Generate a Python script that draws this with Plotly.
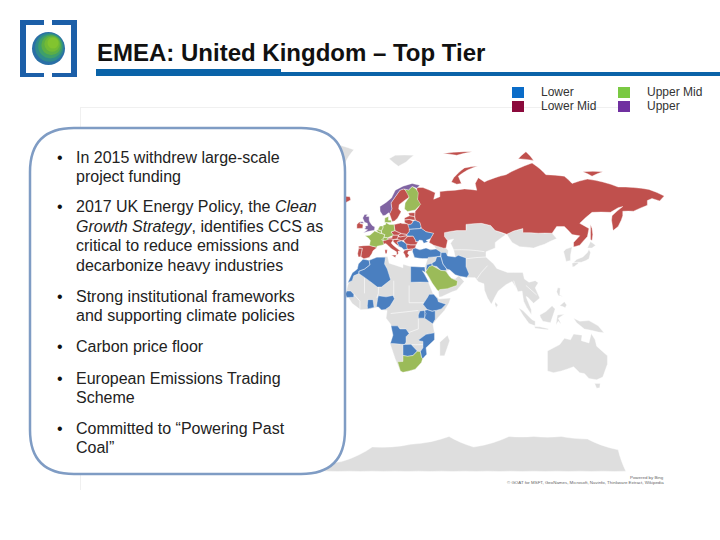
import plotly.graph_objects as go

# Colours of the map
map_blue = '#4a7fc0'
map_red = '#c0504d'
map_green = '#9bbb59'
map_purple = '#8064a2'
map_grey = '#dedede'

# Country outlines, rough lon/lat
russia = [(28, 60), (30.5, 62), (29, 66), (29, 69.5), (33, 69.5), (41, 67.5), (40, 65), (44, 66), (44, 68), (54, 68.5),
          (60, 69), (68, 68.5), (67, 71), (69, 73), (73, 71.5), (75, 72), (80, 73), (87, 74), (95, 76), (104, 77.7),
          (113, 74), (125, 73.5), (130, 71), (140, 72.5), (150, 71.5), (160, 69.7), (170, 69.5), (180, 68.8), (190, 66.3),
          (187, 64.3), (182, 65.3), (179, 64.5), (179, 62.5), (170, 60), (163, 60), (163, 58), (162, 56), (160, 53),
          (156.7, 51), (155.7, 56), (156, 58), (163, 62), (160, 61.5), (155, 59.5), (143, 59.5), (135, 54.5), (141, 52),
          (140, 48), (135, 43.5), (131, 42.6), (131, 45), (135, 48.4), (130, 49), (125, 53), (120, 53), (117, 49.7),
          (108, 49.7), (98, 50), (98, 52), (92, 50.8), (87.5, 49.2), (80, 51), (77, 53.5), (71, 54.5), (61, 54), (61, 51),
          (55, 51), (47, 50), (47, 48), (49, 46), (48, 42), (46.5, 41.9), (40, 43.5), (37, 45), (38, 47), (40, 49.7),
          (35, 50.5), (32, 52.2), (31, 55), (28, 56), (27.5, 59)]
novaya_zemlya = [(51.5, 71.5), (55, 70.7), (58, 71), (56, 73.5), (62, 75.5), (68.5, 76.8), (60, 76.2), (53, 73)]
franz_josef = [(46, 80.5), (60, 81), (65, 81), (55, 80)]
severnaya = [(95, 79), (105, 78.5), (100, 81)]
new_siberian = [(137, 75), (150, 75), (143, 73.5)]
sakhalin = [(142, 54), (143, 52), (143.5, 49), (143, 46), (142, 46.5), (142, 50)]
iceland = [(-24, 65.5), (-22, 64), (-18, 63.4), (-14, 64.7), (-14.5, 66), (-18, 66.2), (-22, 66.4)]
ireland = [(-10, 52), (-6.2, 52.2), (-6, 54), (-8, 54.4), (-7.4, 55.3), (-8.5, 55), (-10, 54)]
spain = [(-9, 43), (-1.8, 43.4), (3.2, 42.3), (0.5, 40.5), (-0.3, 38.8), (-2, 36.8), (-5.5, 36), (-7.4, 37.2), (-7, 39.5),
         (-6.5, 41.8), (-8.7, 42)]
portugal = [(-8.8, 41.9), (-6.3, 41.8), (-7, 39.5), (-7.4, 37.2), (-9, 37), (-9.5, 38.8)]
sweden = [(11.2, 59), (13, 55.4), (14.5, 55.6), (16.6, 57), (18.8, 59.8), (17.2, 61), (17.5, 62.8), (21.4, 64.7), (24, 65.8),
          (23.6, 67.5), (20.5, 69), (18, 68.5), (15, 66), (12.2, 63.5), (12.8, 61)]
estonia = [(23.5, 59.2), (28, 59.4), (27.5, 57.6), (24.3, 58)]
latvia = [(21, 57), (24.3, 58), (27.5, 57.6), (28, 56), (24, 56.3), (21, 56.1)]
lithuania = [(21, 56.1), (24, 56.3), (26.6, 55.6), (25.5, 54.2), (23.3, 54), (21, 55)]
poland = [(14.2, 53.9), (18.5, 54.7), (19.5, 54.4), (23, 54.3), (24, 52), (24, 50.6), (22.6, 49.1), (19, 49.4), (14.8, 50.9)]
czechia = [(12.2, 50.3), (14.8, 51), (18.8, 49.6), (16.9, 48.7), (13.8, 48.7)]
slovakia = [(16.9, 48.7), (18.8, 49.6), (22.5, 49.1), (22.1, 48.4), (18, 47.8)]
hungary = [(16.2, 46.9), (17, 48), (18, 47.8), (22.1, 48.4), (22.8, 47.9), (21, 46.2), (18.8, 45.9), (16.6, 46.4)]
austria = [(9.6, 47.3), (13, 47.6), (13, 48.7), (16.9, 48.7), (16.5, 46.9), (13.7, 46.5), (10.4, 46.9)]
croatia = [(13.6, 45.5), (13.7, 46.5), (16.5, 46.5), (19, 45.9), (16, 45.2), (17.5, 43), (15.5, 44)]
italy = [(7, 44), (6.9, 45.8), (8.5, 46.4), (12.3, 47), (13.7, 46.4), (12.3, 44.7), (13.6, 43.5), (16, 41.8), (18.5, 40.2),
         (16.8, 40.3), (17, 39), (16, 38), (15.8, 39.9), (12.3, 41.7), (10.3, 43.4), (8.8, 44.4)]
sicily = [(12.5, 38), (15.6, 38.2), (15, 36.7)]
sardinia = [(8.2, 41), (9.8, 41), (9.5, 39), (8.5, 39)]
romania = [(20.3, 46.1), (22.8, 48), (26.6, 48.2), (28.2, 46), (28.2, 45.3), (29.7, 45.2), (28.6, 43.7), (25, 43.7), (22.7, 43.9),
           (21.4, 44.8)]
bulgaria = [(22.5, 44.2), (25, 43.7), (28.6, 43.7), (27.9, 42), (26.2, 41.5), (22.9, 41.3), (22.5, 42.5)]
greece = [(20.2, 39.6), (21, 40.8), (26.2, 41.5), (26, 40.8), (23.5, 40.2), (23, 39), (24, 38), (22.8, 36.5), (21.7, 36.8),
          (21.2, 38.3)]

gb = [(-5.7, 50), (1.4, 51.2), (1.7, 52.7), (0, 53.5), (-1.5, 55), (-2, 56), (-2, 57.6), (-4, 57.7), (-3, 58.6), (-5, 58.6),
      (-6.2, 57), (-5, 55), (-3.2, 54.5), (-3, 53.4), (-4.5, 53.2), (-4.3, 52.3), (-5.2, 51.8), (-3, 51.4)]
northern_ireland = [(-8, 54.5), (-5.5, 54.5), (-6, 55.2), (-7.5, 55.2)]
norway = [(5.1, 60), (7, 58), (8.5, 58.2), (10.7, 59.3), (11.5, 59), (12.8, 61), (12.2, 63.5), (15, 66), (18, 68.5), (20.5, 69),
          (23.6, 68.6), (26, 69.9), (29, 69.2), (31, 70.3), (26, 71), (20, 70), (15, 68.5), (12.5, 65.5), (9, 63.7), (5, 62)]

france = [(-4.7, 48.4), (-1.5, 48.7), (1.6, 50.8), (4.2, 50), (8.2, 49), (7.5, 47.5), (6.9, 46), (7.5, 43.8), (3.2, 43), (3, 42.4),
          (-1.8, 43.4), (-1.2, 46), (-2.5, 47.3)]
belgium = [(2.5, 51.1), (4.2, 51.4), (6, 50.7), (5.8, 49.5), (4.2, 50)]
netherlands = [(3.5, 51.4), (6, 50.8), (7, 52.3), (7, 53.3), (5, 53.2)]
germany = [(6, 51), (7, 52.3), (7, 53.5), (8.7, 54), (9, 54.9), (11, 54), (14.2, 53.9), (14.7, 51), (12.2, 50.3), (13.8, 48.7),
           (10, 47.4), (7.6, 47.6), (8.2, 49), (6.2, 49.6)]
denmark = [(8.1, 54.9), (8.2, 57), (10.6, 57.7), (10.5, 56), (12.5, 56), (12.3, 54.9)]
switzerland = [(6, 46.3), (7.6, 47.6), (9.6, 47.5), (10.4, 46.6), (8.5, 46)]
finland = [(21, 61), (23, 59.9), (28, 60.5), (31.5, 62.9), (29.5, 65), (30, 67.5), (28.5, 69), (26, 69.9), (23.6, 68.6), (21, 69),
           (24, 65.8), (21.4, 63.5)]
saudi_arabia = [(34.6, 28.1), (37, 31.5), (39, 32.1), (44.7, 29.2), (47.5, 29), (48.5, 28), (50, 26), (51.5, 24.5), (55.5, 22.7),
                (55, 20), (52, 19), (49, 18), (44, 17.4), (43, 16.5), (42, 17.5), (39, 21.5), (37, 25), (35, 28)]
south_africa = [(16.5, -28.6), (20, -28.4), (20, -24.8), (23, -25.3), (26.5, -24.8), (29.3, -22.2), (31.3, -22.4), (32, -25.8),
                (32.8, -26.8), (32, -29), (28, -33), (20, -34.8), (18.3, -34)]

belarus = [(23.3, 52), (23.3, 54), (25.5, 54.2), (26.6, 55.6), (28, 56), (31, 55), (32, 53), (31, 52), (23.7, 51.6)]
ukraine = [(22.2, 48.4), (22.8, 49.5), (24, 50.6), (24, 51.6), (31, 52), (32, 52.2), (35, 50.5), (40, 49.7), (38, 47), (35, 46),
           (36.5, 45.3), (33.5, 44.5), (32.6, 46), (30.7, 46.2), (29.7, 45.3), (28.2, 45.5), (28.2, 46), (26.6, 48.2)]
serbia = [(16, 45.2), (19, 45.9), (21.4, 44.8), (22.6, 44), (22.9, 41.3), (20.6, 41), (19.3, 42.2), (17, 43)]
turkey = [(26.2, 40), (26.3, 41.8), (28, 42), (31, 41), (35, 42), (38, 41), (41.5, 41.5), (44.7, 39.7), (44.5, 37.5), (42, 37.2),
          (36.5, 36.8), (36, 36.2), (32.5, 36.1), (30.5, 36.3), (27.5, 36.7)]
iran = [(44.7, 39.5), (48, 39.5), (49, 37.6), (54, 37), (56, 38), (61, 36.5), (61, 31.5), (63, 27), (61.6, 25), (57, 25.7),
        (54, 26.6), (50.5, 29.5), (48.5, 30), (46, 33), (44.7, 37)]
iraq = [(38.8, 33.5), (41, 34.6), (42, 37.2), (44.7, 37.2), (46, 33), (48.5, 30), (47.5, 29), (44.7, 29.2), (42, 31.5), (39, 32)]
jordan = [(35, 29.5), (35.5, 32.5), (38.8, 33.4), (39, 32), (37, 31), (37, 29.8)]
morocco = [(-6, 35.8), (-2, 35.1), (-1.5, 32.5), (-5, 30), (-8.7, 28.7), (-8.7, 27.3), (-12, 26), (-13, 23), (-17, 21.3), (-16, 21.5),
           (-13, 27.7), (-9.7, 30), (-9, 33)]
algeria = [(-2, 35.1), (3, 36.9), (8.6, 36.9), (8, 33), (9.8, 30), (12, 23.5), (6, 19), (3.3, 19), (-5, 25), (-8.7, 27.3), (-8.7, 28.7),
           (-5, 30), (-1.5, 32.5)]
egypt = [(25, 31.6), (32, 31.2), (34.2, 31.3), (34.5, 28), (32.6, 29), (34, 27), (36.9, 22), (25, 22)]
senegal = [(-17.5, 14.7), (-16.5, 16.5), (-14, 16.5), (-12, 14.5), (-12, 12.5), (-16.7, 12.4)]
ghana = [(-3, 5), (1.2, 6), (0.5, 11), (-2.8, 11), (-3.2, 7)]
nigeria = [(2.7, 6.3), (3.5, 11.5), (4, 13.5), (9, 12.8), (13.5, 13.7), (14.5, 11.5), (11.5, 6.7), (8.5, 4.6), (6, 4.3), (4, 6.3)]
ethiopia = [(33, 8), (36, 12.5), (37, 14.4), (40, 14.5), (42.5, 11.5), (43, 9.7), (48, 8), (45, 5), (41.5, 4), (39, 3.5), (36, 4.5),
            (35, 5.5)]
kenya = [(34, 4), (36, 4.5), (39, 3.5), (41, 4), (41, -1.7), (39.3, -4.7), (34, -1)]
uganda = [(30, -1), (34, -1), (35, 2), (34, 4), (31, 3.7), (30, 1)]
angola = [(11.8, -17.3), (13.5, -12), (12.2, -6), (16.5, -6), (18, -8), (22, -8), (24, -11), (22, -13), (22, -16.5), (21, -18), (14, -17.4)]
botswana = [(20, -18), (25.2, -17.8), (29.3, -22), (26.5, -24.8), (23, -25.3), (20, -24.8), (20, -22)]
mozambique = [(30.2, -15), (35, -11.5), (40.5, -10.5), (40.5, -15), (35, -20), (35.5, -24), (32.8, -26.8), (32, -25.8), (31.3, -22.4),
              (33, -20), (33, -16), (30.4, -15.6)]

# Land without data
africa = [(-6, 35.8), (-2, 35.1), (3, 36.9), (10, 37.3), (11, 33.5), (15, 32.3), (20, 30.8), (20, 32.8), (25, 31.6), (32, 31.2),
          (34.2, 31.3), (32.5, 29.8), (34, 27), (37, 21), (39.5, 15), (43, 12), (43.2, 11.4), (51, 12), (50, 9), (47, 4), (42, -1.5),
          (39.5, -5), (40.5, -10.5), (40.5, -15), (35, -20), (35.5, -24), (32.8, -26), (32, -29), (28, -33), (20, -34.8), (18.3, -34),
          (15, -27), (11.8, -18), (13.7, -11), (12, -5), (9, -1), (9.7, 4), (6, 4.3), (4, 6.3), (-2, 4.8), (-7.5, 4.4), (-13, 8.5),
          (-17, 14.7), (-16, 20), (-13, 27.7), (-9.7, 30), (-9, 33)]
madagascar = [(44, -25), (47, -25), (50.4, -15.5), (49, -12), (44, -16.5)]
lesotho = [(27, -29.6), (28.6, -28.6), (29.4, -29.6), (28, -30.6)]
asia_west_south = [(34.3, 31.3), (34.6, 28.1), (37, 25), (39, 21.5), (43, 16.5), (43.5, 12.7), (45, 12.8), (52, 16), (55, 17), (59.8, 22.5),
                   (56.3, 26), (54, 24.2), (51.5, 24.5), (50, 26), (48.5, 29), (50.5, 29.5), (54, 26.6), (57, 25.7), (61.6, 25), (67, 24.8),
                   (69, 22.3), (72.7, 21), (73, 17), (75, 12), (77.5, 8), (80, 13), (82, 16.5), (87, 20.5), (91, 22.5), (94, 18), (94.5, 16),
                   (97.5, 16.5), (98.5, 10), (100.5, 6), (103.5, 1.4), (103.5, 4.5), (100, 13), (101, 12.7), (105, 8.6), (109, 12),
                   (106, 18.5), (108, 21.7), (106, 23), (102, 22), (99, 24), (98, 28), (92, 28), (88, 28), (81, 30.4), (79, 33), (74, 37),
                   (74, 40), (80, 42), (80, 45), (87, 49), (80, 51), (77, 53.5), (71, 54.5), (61, 54), (61, 51), (55, 51), (47, 50), (47, 48),
                   (49, 46), (53, 46.8), (51, 44.5), (53, 41), (54, 37), (49, 37.6), (49.5, 40.5), (48, 42), (40, 43.5), (41.5, 41.5),
                   (36, 41.5), (27, 41), (27, 36.7), (36, 36)]
mongolia = [(87.5, 49.2), (92, 50.8), (98, 52), (98, 50), (108, 49.7), (117, 49.7), (120, 47), (112, 44), (105, 42), (96, 42.7), (91, 45)]
korea = [(124.5, 40), (126, 35), (126, 34.5), (129, 35), (129, 38), (130, 42.5), (128, 42), (126, 41.5)]
honshu = [(131, 34), (133, 35.6), (137, 37), (140, 39.5), (141, 41.3), (142, 39.5), (141, 36), (139, 35), (136, 34), (133, 34)]
hokkaido = [(140, 42), (142, 45.4), (145.3, 43.5), (143, 42)]
kyushu = [(130, 33.5), (131.8, 33.8), (134, 34), (134, 33.3), (131.5, 31.5), (130.3, 31.3)]
sri_lanka = [(80, 9.6), (81.8, 7.5), (80.6, 6), (79.8, 8)]
sumatra = [(95.3, 5.6), (98, 4), (104, -2), (106, -3), (106, -6), (102, -4.5), (98, 1)]
java = [(105.5, -6.5), (109, -6.6), (114.5, -7.8), (114.5, -8.6), (106, -7.6)]
borneo = [(109, 1), (113, 3.3), (117, 7), (119, 5), (117.7, 1), (116, -4), (111, -3), (109.5, -0.5)]
sulawesi = [(119.5, -5.5), (120.5, 1), (125, 1.5), (121, -1), (123, -5), (121, -3)]
new_guinea = [(131, -1), (135, -3), (141, -2.6), (147, -6), (150.8, -10.5), (147, -10), (143, -9), (138, -8), (133, -4)]
luzon = [(120, 16), (120.7, 18.5), (122.3, 18.4), (122, 14), (124, 13), (121, 13.7)]
mindanao = [(122, 7), (125, 9.7), (126.5, 7.5), (125.5, 5.8), (124, 6.5)]
australia = [(114, -22), (114, -34), (118, -35), (123, -34), (131, -31.5), (135, -35), (138, -35.5), (141, -38.3), (146, -39), (150, -37.5),
             (153, -30), (153, -25), (146, -19), (145, -15), (142.5, -11), (141, -17), (136, -15.5), (136.5, -12), (131, -11.3), (129, -15),
             (125, -14), (122, -18)]
tasmania = [(144.7, -41), (148.3, -41), (148, -43.3), (146, -43.6)]
svalbard = [(11, 79), (15, 80), (27, 80), (22, 78), (17, 76.7), (14, 77.8)]
greenland = [(-70, 78), (-55, 82.3), (-30, 83.5), (-12, 81.5), (-20, 75), (-22, 70), (-33, 68), (-43, 60), (-50, 62), (-55, 70), (-68, 76)]
antarctica = [(-40, -78), (-40, -76), (-20, -75), (0, -70), (25, -69), (50, -66), (66, -70), (89, -66), (105, -66), (123, -66), (140, -67),
              (160, -71), (165, -78), (150, -78), (135, -78), (120, -78), (105, -78), (90, -78), (75, -78), (60, -78), (45, -78), (30, -78),
              (15, -78), (0, -78), (-15, -78), (-30, -78)]

# Thin white borders inside the grey land
border_lines = [[(-5, 25), (-5, 15)], [(4, 19), (4, 15), (3, 12)], [(14, 23), (14, 13)], [(24, 20), (24, 9)], [(24, 9), (34, 9)],
                [(12, 2), (30, 4)], [(30, -1), (30, -8), (22, -11)], [(-12, 14.5), (-8, 10), (-8, 5)], [(22, -18), (34, -18)],
                [(53, 41), (73, 40)], [(61, 36), (74, 37)], [(68, 24), (71, 28), (75, 32)], [(92, 23), (96, 12)], [(100, 20), (107, 14)]]

lower_lands = [belarus, ukraine, serbia, turkey, iran, iraq, jordan, morocco, algeria, egypt, senegal, ghana, nigeria, ethiopia,
               kenya, uganda, angola, botswana, mozambique]
lower_mid_lands = [russia, novaya_zemlya, franz_josef, severnaya, new_siberian, sakhalin, iceland, ireland, spain, portugal, sweden, estonia,
                   latvia, lithuania, poland, czechia, slovakia, hungary, austria, croatia, italy, sicily, sardinia, romania, bulgaria, greece]
upper_mid_lands = [france, belgium, netherlands, germany, denmark, switzerland, finland, saudi_arabia, south_africa]
upper_lands = [gb, northern_ireland, norway]
no_data_lands = [africa, madagascar, lesotho, asia_west_south, mongolia, korea, honshu, hokkaido, kyushu, sri_lanka, sumatra, java, borneo,
                 sulawesi, new_guinea, luzon, mindanao, australia, tasmania, svalbard, greenland, antarctica]

# Legend
legend_left = ['Lower', 'Lower Mid']
legend_right = ['Upper Mid', 'Upper']
legend_left_colors = ['#0a6cc8', '#8b0a3c']
legend_right_colors = ['#7ac943', '#7030a0']

title_text = 'EMEA: United Kingdom – Top Tier'
bullet_lines = [
    ['In 2015 withdrew large-scale', 'project funding'],
    ['2017 UK Energy Policy, the <i>Clean</i>', '<i>Growth Strategy</i>, identifies CCS as', 'critical to reduce emissions and',
     'decarbonize heavy industries'],
    ['Strong institutional frameworks', 'and supporting climate policies'],
    ['Carbon price floor'],
    ['European Emissions Trading', 'Scheme'],
    ['Committed to “Powering Past', 'Coal”'],
]
bullet_tops = [157, 207, 296, 346, 378, 428]
bullet_line_height = 19.4
logo_circle_colors = ['#2a6fa6', '#2f8a8c', '#3f9f6a', '#5cae45', '#72ba35', '#82c42f']


def px(x):
    return x / 720


def py(y):
    return 1 - y / 540


def clockwise(points):
    # d3 treats a clockwise ring as the small side of the globe
    area = 0
    for i in range(len(points)):
        x0, y0 = points[i]
        x1, y1 = points[(i + 1) % len(points)]
        area += x0 * y1 - x1 * y0
    return points if area < 0 else points[::-1]


def land_trace(lands, color):
    lons, lats = [], []
    for land in lands:
        ring = clockwise(land)
        lons += [p[0] for p in ring] + [ring[0][0], None]
        lats += [p[1] for p in ring] + [ring[0][1], None]
    return go.Scattergeo(lon=lons[:-1], lat=lats[:-1], mode='lines', fill='toself', fillcolor=color,
                         line=dict(color='white', width=0.4), hoverinfo='skip', showlegend=False)


fig = go.Figure()
fig.add_trace(land_trace(no_data_lands, map_grey))
for line in border_lines:
    fig.add_trace(go.Scattergeo(lon=[p[0] for p in line], lat=[p[1] for p in line], mode='lines',
                                line=dict(color='white', width=0.6), hoverinfo='skip', showlegend=False))
fig.add_trace(land_trace(lower_lands, map_blue))
fig.add_trace(land_trace(lower_mid_lands, map_red))
fig.add_trace(land_trace(upper_mid_lands, map_green))
fig.add_trace(land_trace(upper_lands, map_purple))

shapes = []
annotations = []


def rect(x0, y0, x1, y1, color):
    shapes.append(dict(type='rect', xref='paper', yref='paper', x0=px(x0), x1=px(x1), y0=py(y0), y1=py(y1),
                       fillcolor=color, line_width=0))


def text(x, y, label, size, color='#222222', anchor='left', bold=False):
    annotations.append(dict(x=px(x), y=py(y), xref='paper', yref='paper', text=f'<b>{label}</b>' if bold else label, showarrow=False,
                            xanchor=anchor, yanchor='middle', align=anchor, borderpad=0,
                            font=dict(family='Liberation Sans', size=size, color=color)))


# Faint frame of the map
rect(80, 107, 81, 490, '#f0f0f0')
rect(80, 107, 620, 108, '#f0f0f0')

# Header
rect(96, 69, 281, 76, '#0a63a8')
rect(281, 72, 720, 76, '#0a63a8')
text(96, 53, title_text, 24, '#111111', bold=True)

# Logo
logo_blue = '#1c5fa8'
rect(20, 20, 26, 77, logo_blue)
rect(20, 20, 44, 25, logo_blue)
rect(20, 73, 44, 77, logo_blue)
rect(71, 20, 77, 77, logo_blue)
rect(52, 20, 77, 25, logo_blue)
rect(52, 73, 77, 77, logo_blue)
for i, color in enumerate(logo_circle_colors):
    r = 16.5 - i * 2.2
    cx = 48.5 + i * 0.9
    cy = 48.5 - i * 1.1
    shapes.append(dict(type='circle', xref='paper', yref='paper', x0=px(cx - r), x1=px(cx + r), y0=py(cy - r), y1=py(cy + r),
                       fillcolor=color, line_width=0))

# Text box over the map
bx0, bx1, by0, by1, br = 30, 345, 128, 474, 44
box_path = (f'M {px(bx0 + br)} {py(by0)} L {px(bx1 - br)} {py(by0)} Q {px(bx1)} {py(by0)} {px(bx1)} {py(by0 + br)} '
            f'L {px(bx1)} {py(by1 - br)} Q {px(bx1)} {py(by1)} {px(bx1 - br)} {py(by1)} '
            f'L {px(bx0 + br)} {py(by1)} Q {px(bx0)} {py(by1)} {px(bx0)} {py(by1 - br)} '
            f'L {px(bx0)} {py(by0 + br)} Q {px(bx0)} {py(by0)} {px(bx0 + br)} {py(by0)} Z')
shapes.append(dict(type='path', xref='paper', yref='paper', path=box_path, fillcolor='white',
                   line=dict(color='#7f9cc4', width=2.5)))

for top, lines in zip(bullet_tops, bullet_lines):
    text(56, top, '•', 16, '#111111')
    for i, line in enumerate(lines):
        text(75, top + i * bullet_line_height, line, 16)

# Legend
for i in range(2):
    rect(512, 87 + i * 14, 524, 98 + i * 14, legend_left_colors[i])
    rect(618, 87 + i * 14, 630, 98 + i * 14, legend_right_colors[i])
    text(540, 91.5 + i * 14, legend_left[i], 12, '#333333')
    text(646, 91.5 + i * 14, legend_right[i], 12, '#333333')

# Map credits
text(665, 477, 'Powered by Bing', 4.4, '#666666', anchor='right')
text(665, 482, '© GOAT for MSFT, GeoNames, Microsoft, Navinfo, Thinkware Extract, Wikipedia', 4.4, '#666666', anchor='right')

fig.update_layout(
    width=720, height=540, margin=dict(l=0, r=0, t=0, b=0), paper_bgcolor='white',
    shapes=shapes, annotations=annotations, showlegend=False,
    geo=dict(
        domain=dict(x=[px(106.6), px(668.6)], y=[py(487), py(137)]),
        projection=dict(type='miller', rotation=dict(lon=10)),
        lonaxis=dict(range=[-170, 190]),
        lataxis=dict(range=[-78, 84]),
        bgcolor='rgba(0,0,0,0)',
        showland=False, showocean=False, showlakes=False, showrivers=False,
        showcountries=False, showcoastlines=False, showframe=False, showsubunits=False,
    ),
)

# the browser's default body margin would shift the whole slide
fig.write_html('out.html', config=dict(displayModeBar=False), post_script="document.body.style.margin = '0';")
